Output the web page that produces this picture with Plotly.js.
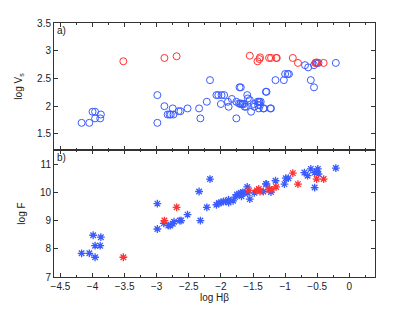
<!DOCTYPE html>
<html>
<head>
<meta charset="utf-8">
<script src="https://cdn.plot.ly/plotly-3.0.1.min.js"></script>
<style>html,body{margin:0;padding:0;background:#fff;}#chart{width:415px;height:313px;}</style>
</head>
<body>
<div id="chart"></div>
<script>
// Panel a) log Vs vs log Hbeta
const topBlueX = [-4.17,-4.05,-4.00,-3.96,-3.96,-3.87,-3.88,-2.99,-2.99,-2.88,-2.83,-2.80,-2.78,-2.75,-2.74,-2.66,-2.63,-2.52,-2.34,-2.32,-2.22,-2.17,-2.07,-2.04,-1.99,-1.95,-2.00,-1.89,-1.88,-1.83,-1.76,-1.76,-1.72,-1.69,-1.66,-1.71,-1.69,-1.70,-1.67,-1.64,-1.63,-1.59,-1.58,-1.55,-1.61,-1.53,-1.49,-1.48,-1.43,-1.41,-1.40,-1.38,-1.42,-1.39,-1.41,-1.34,-1.33,-1.23,-1.30,-1.29,-1.22,-1.15,-1.02,-1.00,-0.96,-0.94,-0.69,-0.64,-0.60,-0.55,-0.55,-0.52,-0.50,-0.48,-0.21];
const topBlueY = [1.70,1.70,1.90,1.90,1.78,1.85,1.78,2.20,1.70,2.00,1.85,1.85,1.85,1.96,1.85,1.91,1.91,1.96,1.96,1.78,2.08,2.47,2.20,2.20,2.20,2.20,2.04,2.08,1.99,2.13,2.08,1.78,2.05,2.05,2.04,2.34,2.34,2.04,2.04,2.04,1.99,2.20,2.14,2.11,1.99,1.90,2.04,1.99,2.08,2.08,2.08,2.08,2.02,2.02,1.96,1.96,1.96,1.96,2.26,2.26,1.96,2.47,2.47,2.58,2.58,2.58,2.74,2.70,2.47,2.34,2.74,2.78,2.78,2.78,2.78];
const topRedX = [-3.52,-2.88,-2.69,-1.55,-1.43,-1.40,-1.39,-1.25,-1.22,-1.14,-1.13,-0.88,-0.80,-0.53,-0.51,-0.40];
const topRedY = [2.81,2.87,2.90,2.91,2.81,2.85,2.88,2.87,2.87,2.87,2.87,2.87,2.78,2.78,2.79,2.78];

// Panel b) log F vs log Hbeta
const botBlueX = [-4.17,-4.05,-3.99,-3.87,-3.96,-3.88,-3.96,-2.99,-2.99,-2.89,-2.82,-2.79,-2.75,-2.73,-2.64,-2.62,-2.52,-2.34,-2.32,-2.22,-2.17,-2.07,-2.03,-2.00,-1.96,-1.93,-1.88,-1.88,-1.81,-1.78,-1.75,-1.72,-1.69,-1.66,-1.64,-1.68,-1.59,-1.55,-1.58,-1.48,-1.34,-1.30,-1.29,-1.22,-1.15,-1.01,-0.99,-0.95,-0.70,-0.65,-0.60,-0.54,-0.51,-0.49,-0.48,-0.54,-0.21];
const botBlueY = [7.84,7.84,8.48,8.41,8.11,8.11,7.70,9.60,8.70,8.90,8.82,8.82,8.89,8.96,9.00,9.00,9.21,10.03,9.00,9.47,10.47,9.56,9.62,9.64,9.68,9.68,9.64,9.74,9.70,9.83,9.92,9.94,9.98,10.00,9.98,9.86,10.19,9.76,9.98,9.98,10.03,10.30,10.29,10.01,10.41,10.29,10.50,10.50,10.70,10.59,10.83,10.70,10.74,10.83,10.65,10.17,10.86];
const botRedX = [-3.52,-2.88,-2.69,-1.56,-1.44,-1.41,-1.39,-1.25,-1.24,-1.21,-1.14,-0.88,-0.80,-0.51,-0.40];
const botRedY = [7.70,9.00,9.47,10.07,10.07,10.12,10.03,10.09,10.12,10.09,10.19,10.68,10.29,10.47,10.47];

const BLUE = '#3a5cff';
const RED = '#ff3333';
const AX = '#333333';
const FONT = {family: 'Liberation Sans, Arial, sans-serif', size: 10, color: '#222'};

const circ = c => ({symbol: 'circle-open', size: 7, color: c, line: {color: c, width: 1}});
const star = c => ({symbol: 'asterisk-open', size: 6.5, color: c, line: {color: c, width: 1.3}});

const traces = [
  {x: topBlueX, y: topBlueY, xaxis: 'x2', yaxis: 'y2', mode: 'markers', type: 'scatter', marker: circ(BLUE), hoverinfo: 'skip'},
  {x: topRedX, y: topRedY, xaxis: 'x2', yaxis: 'y2', mode: 'markers', type: 'scatter', marker: circ(RED), hoverinfo: 'skip'},
  {x: botBlueX, y: botBlueY, xaxis: 'x', yaxis: 'y', mode: 'markers', type: 'scatter', marker: star(BLUE), hoverinfo: 'skip'},
  {x: botRedX, y: botRedY, xaxis: 'x', yaxis: 'y', mode: 'markers', type: 'scatter', marker: star(RED), hoverinfo: 'skip'}
];

const xcommon = {
  range: [-4.6, 0.4], tick0: 0, dtick: 0.5, ticks: 'inside', ticklen: 4, tickwidth: 1, tickcolor: AX,
  mirror: 'allticks', showline: true, linecolor: AX, linewidth: 1, showgrid: false, zeroline: false,
  minor: {dtick: 0.25, tick0: 0, ticks: 'inside', ticklen: 2, tickcolor: AX, showgrid: false}
};
const ycommon = {
  ticks: 'inside', ticklen: 4, tickwidth: 1, tickcolor: AX, mirror: 'ticks', showline: true,
  linecolor: AX, linewidth: 1, showgrid: false, zeroline: false
};

const layout = {
  width: 415, height: 313,
  margin: {l: 54, r: 40, t: 23, b: 36, pad: 0},
  paper_bgcolor: '#fff', plot_bgcolor: '#fff',
  showlegend: false,
  font: FONT,
  xaxis: Object.assign({}, xcommon, {anchor: 'y', domain: [0, 1], title: {text: 'log Hβ', font: FONT, standoff: 2}}),
  yaxis: Object.assign({}, ycommon, {anchor: 'x', domain: [0, 0.5], range: [7, 11.5], tick0: 7, dtick: 1, title: {text: 'log F', font: FONT, standoff: 12}}),
  xaxis2: Object.assign({}, xcommon, {anchor: 'y2', domain: [0, 1], matches: 'x', showticklabels: false}),
  yaxis2: Object.assign({}, ycommon, {anchor: 'x2', domain: [0.5, 1], range: [1.21, 3.5], tick0: 1.5, dtick: 0.5, title: {text: 'log V<sub>s</sub>', font: FONT, standoff: 12}}),
  annotations: [
    {text: 'a)', xref: 'paper', yref: 'paper', x: 0.004, y: 1, xanchor: 'left', yanchor: 'top', showarrow: false, font: FONT},
    {text: 'b)', xref: 'paper', yref: 'paper', x: 0.004, y: 0.5, xanchor: 'left', yanchor: 'top', showarrow: false, font: FONT}
  ]
};

Plotly.newPlot('chart', traces, layout, {staticPlot: true, displayModeBar: false});
</script>
</body>
</html>
